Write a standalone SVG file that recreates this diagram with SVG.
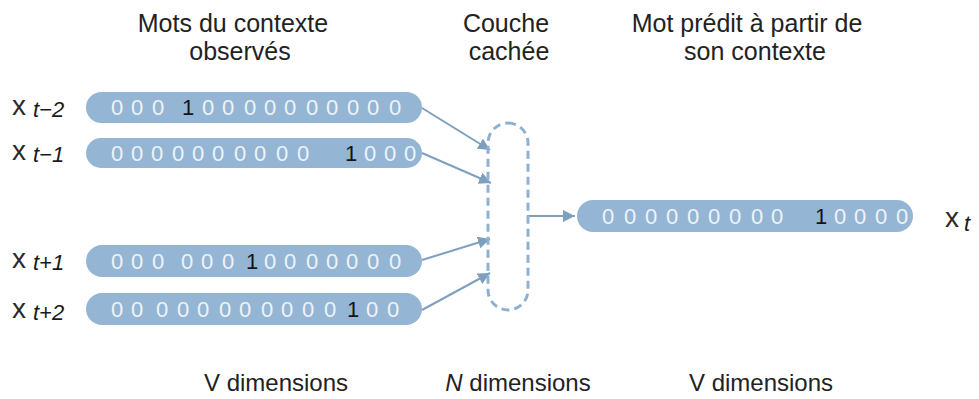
<svg xmlns="http://www.w3.org/2000/svg" width="979" height="399" viewBox="0 0 979 399">
<style>
.bar{fill:#94b5d4}
.d{font-family:"Liberation Sans",Arial,sans-serif;font-size:22px;fill:#eef3f8;text-anchor:middle}
.one{fill:#151515}
.hd{font-family:"Liberation Sans",Arial,sans-serif;font-size:25px;fill:#222;text-anchor:middle}
.ft{font-family:"Liberation Sans",Arial,sans-serif;font-size:24px;fill:#222;text-anchor:middle}
.lx{font-family:"Liberation Sans",Arial,sans-serif;font-size:28px;fill:#2a2a2a}
.sub{font-style:italic;font-size:22px;fill:#1a1a1a}
.con{stroke:#7f9fbf;stroke-width:2;fill:none;marker-end:url(#ah)}
</style>
<defs>
<marker id="ah" viewBox="0 0 10 10" refX="10" refY="5" markerWidth="6" markerHeight="6" markerUnits="strokeWidth" orient="auto">
<path d="M0,0 L10,5 L0,10 z" fill="#7f9fbf"/>
</marker>
</defs>
<rect width="979" height="399" fill="#fff"/>

<g id="headers">
<text class="hd" x="233" y="32">Mots du contexte</text>
<text class="hd" x="240" y="60">observés</text>
<text class="hd" x="506" y="32">Couche</text>
<text class="hd" x="509" y="60">cachée</text>
<text class="hd" x="747" y="32">Mot prédit à partir de</text>
<text class="hd" x="755" y="60">son contexte</text>
</g>

<g id="connectors">
<line class="con" x1="422" y1="108" x2="490" y2="150"/>
<line class="con" x1="422" y1="153" x2="491" y2="183"/>
<line class="con" x1="422" y1="260" x2="490" y2="239"/>
<line class="con" x1="422" y1="310" x2="490" y2="273"/>
<line class="con" x1="527" y1="216" x2="575" y2="216"/>
</g>

<g id="input-t-2">
<rect class="bar" x="86" y="92" width="336" height="31" rx="15.5"/>
<text class="d" x="117 137 158" y="115">000</text>
<text class="d one" x="188" y="115">1</text>
<text class="d" x="208 228 250 270 290 312 332 353 373 395" y="115">0000000000</text>
<text class="lx" x="12" y="115">x<tspan class="sub" x="33" y="117">t−2</tspan></text>
</g>

<g id="input-t-1">
<rect class="bar" x="86" y="138" width="336" height="30" rx="15"/>
<text class="d" x="117 137 157 178 198 218 240 260 282 303" y="161">0000000000</text>
<text class="d one" x="351" y="161">1</text>
<text class="d" x="370 390 410" y="161">000</text>
<text class="lx" x="12" y="160">x<tspan class="sub" x="33" y="162">t−1</tspan></text>
</g>

<g id="input-t+1">
<rect class="bar" x="86" y="245" width="336" height="32" rx="16"/>
<text class="d" x="117 137 158 187 207 228" y="269">000000</text>
<text class="d one" x="252" y="269">1</text>
<text class="d" x="270 290 312 332 352 373 395" y="269">0000000</text>
<text class="lx" x="12" y="268">x<tspan class="sub" x="33" y="270">t+1</tspan></text>
</g>

<g id="input-t+2">
<rect class="bar" x="86" y="293" width="336" height="32" rx="16"/>
<text class="d" x="117 137 162 183 203 225 245 267 287 308 330" y="317">00000000000</text>
<text class="d one" x="353" y="317">1</text>
<text class="d" x="372 393" y="317">00</text>
<text class="lx" x="12" y="318">x<tspan class="sub" x="33" y="320">t+2</tspan></text>
</g>

<g id="hidden">
<rect x="488" y="123" width="40" height="187" rx="20" fill="none" stroke="#8fb1d1" stroke-width="3" stroke-dasharray="8 5"/>
</g>

<g id="output">
<rect class="bar" x="577" y="200" width="336" height="32" rx="16"/>
<text class="d" x="608 630 651 672 693 714 735 757 777" y="224">000000000</text>
<text class="d one" x="821" y="224">1</text>
<text class="d" x="840 860 881 902" y="224">0000</text>
<text class="lx" x="945" y="227">x<tspan class="sub" x="964" y="231">t</tspan></text>
</g>

<g id="footer">
<text class="ft" x="276" y="391">V dimensions</text>
<text class="ft" x="518" y="391"><tspan font-style="italic">N</tspan> dimensions</text>
<text class="ft" x="761" y="391">V dimensions</text>
</g>
</svg>
